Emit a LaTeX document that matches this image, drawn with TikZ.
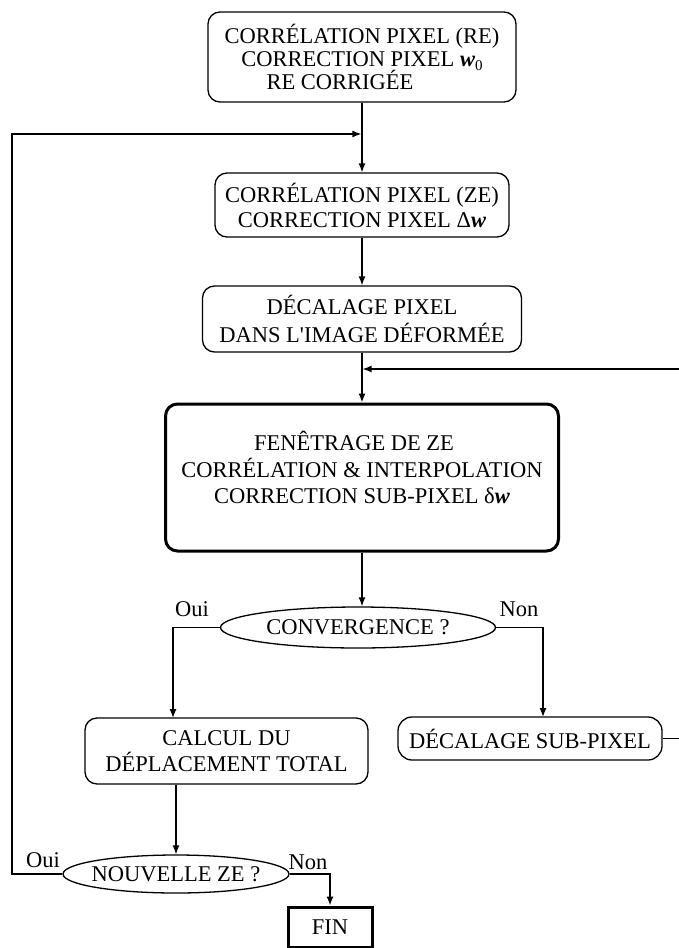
\documentclass[tikz,border=0pt]{standalone}
\usepackage{fontspec}
\setmainfont{Liberation Serif}[Ligatures=TeXOff]
\usetikzlibrary{shapes.geometric,arrows.meta}
\newcommand{\wv}{\textbf{\textit{w}}}
\begin{document}
\begin{tikzpicture}[x=1pt,y=-1pt,
  every node/.style={font=\fontsize{22.5}{26}\selectfont, inner sep=2pt, align=center},
  rbox/.style={draw, line width=1.3pt, rounded corners=12pt},
  tbox/.style={draw, line width=3pt, rounded corners=12pt},
  ell/.style={draw, ellipse, line width=1.3pt, inner sep=0pt},
  arr/.style={line width=1.3pt, -{Latex[length=9pt,width=7pt]}},
  lbl/.style={inner sep=0pt}]
\useasboundingbox (0,0) rectangle (678,948);

% boxes
\node[rbox, minimum width=308pt, minimum height=90pt] (b1) at (362,57)
  {CORRÉLATION PIXEL (RE)\\[-3pt] CORRECTION PIXEL \wv\raisebox{-0.35ex}{\fontsize{15}{15}\selectfont 0}\\[-3pt] RE CORRIGÉE\hspace*{44pt}};
\node[rbox, minimum width=294pt, minimum height=64pt] (b2) at (362,205)
  {CORRÉLATION PIXEL (ZE)\\[-1pt] CORRECTION PIXEL Δ\wv};
\node[rbox, minimum width=319pt, minimum height=66pt] (b3) at (362,319)
  {DÉCALAGE PIXEL\\[2pt] DANS L'IMAGE DÉFORMÉE};
\node[tbox, minimum width=393pt, minimum height=147pt] (m) at (362,477.5)
  {FENÊTRAGE DE ZE\hspace*{16pt}\\[1pt] CORRÉLATION \& INTERPOLATION\\ CORRECTION SUB-PIXEL δ\wv\\[-6pt]\mbox{}};
\node[ell, minimum width=275pt, minimum height=41pt] (cv) at (358,627.5) {};
\node (cvt) at (cv) {CONVERGENCE ?};
\node[rbox, minimum width=283pt, minimum height=66pt] (ca) at (226.5,751)
  {CALCUL DU\\ DÉPLACEMENT TOTAL};
\node[rbox, minimum width=264pt, minimum height=43pt, rounded corners=14pt] (sp) at (530,738.5)
  {DÉCALAGE SUB-PIXEL};
\node[ell, minimum width=226pt, minimum height=38pt] (nz) at (176,874) {};
\node (nzt) at (nz) {NOUVELLE ZE ?};
\node[draw, line width=3pt, minimum width=84pt, minimum height=40pt] (fin) at (330,927) {FIN};

% labels
\node[lbl] (l1) at (192,609) {Oui};
\node[lbl] (l2) at (519,609) {Non};
\node[lbl] (l3) at (43,860) {Oui};
\node[lbl] (l4) at (308,862) {Non};

% coordinates
\coordinate (j1) at (362,134);
\coordinate (cl) at (12,874);
\coordinate (ct) at (12,134);
\coordinate (j2) at (362,369);
\coordinate (rb) at (681,738.5);
\coordinate (rt) at (681,369);
\coordinate (cat) at (173,718);
\coordinate (spt) at (543,717);

% connectors
\draw[arr] (b1.south) -- (b2.north);
\draw[arr, shorten >=0.6pt] (nz.west) -- (cl) -- (ct) -- (j1);
\draw[arr] (b2.south) -- (b3.north);
\draw[arr] (b3.south) -- (b3.south |- m.north);
\draw[arr, shorten >=0.6pt] (sp.east) -- (rb) -- (rt) -- (j2);
\draw[arr] (m.south) -- (m.south |- cv.north);
\draw[arr] (cv.west) -| (cat);
\draw[arr] (cv.east) -| (spt);
\draw[arr] (ca.south -| nz.north) -- (nz.north);
\draw[arr] (nz.east) -| (fin.north);
\end{tikzpicture}
\end{document}
